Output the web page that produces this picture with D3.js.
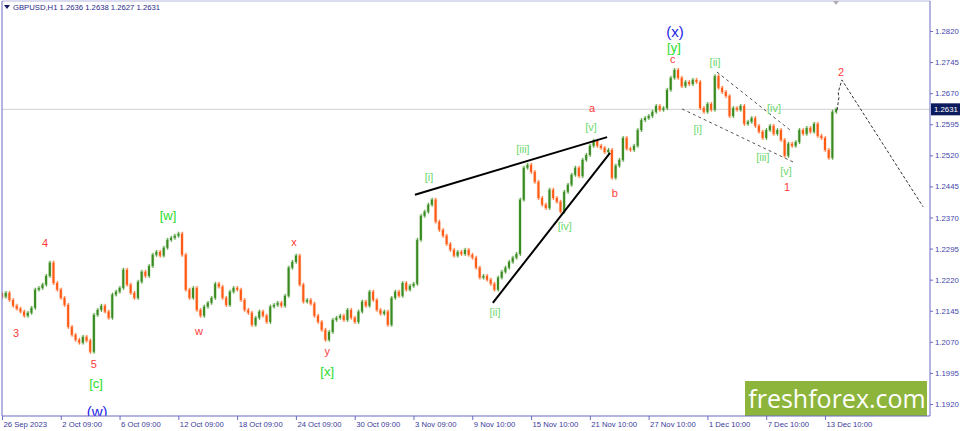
<!DOCTYPE html>
<html><head><meta charset="utf-8">
<script src="https://cdn.jsdelivr.net/npm/d3@7"></script>
<style>body{margin:0;background:#fff;overflow:hidden}svg{display:block}</style>
</head><body><svg id="c" width="960" height="431"></svg>
<script>
// GBPUSD H1 closes, one value per 6 hourly bars
const closes = [
1.2179,1.2188,1.2171,1.2157,1.2150,1.2143,1.2133,1.2140,1.2152,1.2196,1.2200,1.2208,1.2229,1.2261,1.2212,1.2196,
1.2176,1.2159,1.2106,1.2087,1.2075,1.2068,1.2082,1.2073,1.2046,1.2135,1.2147,1.2157,1.2143,1.2128,1.2184,1.2191,
1.2200,1.2244,1.2208,1.2188,1.2176,1.2215,1.2239,1.2229,1.2253,1.2280,1.2287,1.2278,1.2297,1.2316,1.2321,1.2326,
1.2331,1.2280,1.2196,1.2176,1.2200,1.2147,1.2133,1.2155,1.2164,1.2176,1.2210,1.2203,1.2176,1.2159,1.2191,1.2200,
1.2196,1.2171,1.2147,1.2140,1.2111,1.2128,1.2143,1.2133,1.2118,1.2155,1.2159,1.2164,1.2157,1.2181,1.2249,1.2263,
1.2278,1.2208,1.2167,1.2171,1.2162,1.2133,1.2118,1.2099,1.2075,1.2094,1.2123,1.2128,1.2133,1.2123,1.2147,1.2128,
1.2118,1.2143,1.2167,1.2157,1.2191,1.2171,1.2147,1.2138,1.2143,1.2111,1.2176,1.2191,1.2181,1.2212,1.2196,1.2205,
1.2210,1.2316,1.2374,1.2384,1.2401,1.2413,1.2360,1.2340,1.2326,1.2306,1.2292,1.2278,1.2287,1.2282,1.2292,1.2280,
1.2273,1.2249,1.2225,1.2229,1.2220,1.2210,1.2196,1.2225,1.2239,1.2249,1.2263,1.2273,1.2282,1.2413,1.2490,1.2497,
1.2480,1.2456,1.2417,1.2401,1.2393,1.2437,1.2417,1.2408,1.2384,1.2432,1.2449,1.2473,1.2490,1.2470,1.2509,1.2521,
1.2543,1.2555,1.2543,1.2538,1.2528,1.2533,1.2466,1.2495,1.2509,1.2562,1.2536,1.2533,1.2543,1.2581,1.2605,1.2610,
1.2615,1.2625,1.2639,1.2630,1.2634,1.2678,1.2707,1.2726,1.2707,1.2687,1.2697,1.2692,1.2702,1.2697,1.2634,1.2625,
1.2644,1.2630,1.2711,1.2683,1.2673,1.2663,1.2615,1.2634,1.2630,1.2639,1.2596,1.2601,1.2610,1.2591,1.2577,1.2562,
1.2581,1.2591,1.2572,1.2581,1.2557,1.2519,1.2548,1.2543,1.2552,1.2581,1.2572,1.2586,1.2577,1.2596,1.2567,1.2562,
1.2533,1.2514,1.2625,1.2631
];
const firstOpen = 1.2185;
const barsPerSample = 6;
const timeLabels = ["26 Sep 2023","2 Oct 09:00","6 Oct 09:00","12 Oct 09:00","18 Oct 09:00","24 Oct 09:00","30 Oct 09:00","3 Nov 09:00","9 Nov 10:00","15 Nov 10:00","21 Nov 10:00","27 Nov 10:00","1 Dec 10:00","7 Dec 10:00","13 Dec 10:00"];
const priceTicks = [1.2820,1.2745,1.2670,1.2595,1.2520,1.2445,1.2370,1.2295,1.2220,1.2145,1.2070,1.1995,1.1920];
const lastPrice = 1.2631;
const headerText = "GBPUSD,H1  1.2636 1.2638 1.2627 1.2631";
// wave labels: text, sample index, price, kind
const waveLabels = [
 ["4",11.7,1.2309,"r"],["3",3.8,1.2092,"r"],["5",25.0,1.2017,"r"],["[c]",25.6,1.1969,"g"],["(w)",25.9,1.1901,"b"],
 ["[w]",45.2,1.2374,"g"],["w",53.6,1.2097,"r"],["x",79.5,1.2311,"r"],["y",88.5,1.2049,"r"],["[x]",88.5,1.1998,"g"],
 ["[i]",116.2,1.2468,"s"],["[ii]",134.2,1.2143,"s"],["[iii]",141.8,1.2536,"s"],["[iv]",153.2,1.2350,"s"],["[v]",160.3,1.2589,"s"],
 ["a",160.6,1.2634,"r"],["b",166.8,1.2429,"r"],["c",182.6,1.2752,"r"],["[y]",182.9,1.2781,"g"],["(x)",183.2,1.2820,"b"],
 ["[ii]",194.1,1.2745,"s"],["[i]",189.4,1.2584,"s"],["[iv]",210.1,1.2634,"s"],["[iii]",207.1,1.2516,"s"],["[v]",213.4,1.2483,"s"],
 ["1",213.7,1.2444,"r"],["2",228.4,1.2721,"r"]
];
const wedgeUpper = [[112.4,1.2425],[164.7,1.2564]];
const wedgeLower = [[133.6,1.2164],[165.5,1.2526]];
const channelUpper = [[194.6,1.2721],[214.5,1.2581]];
const channelLower = [[185.1,1.2632],[215.3,1.2504]];
const projection = [[227.3,1.2629],[227.8,1.2660],[227.6,1.2672],[228.6,1.2702],[250.7,1.2396]];

const svg = d3.select("#c");
const L=2, R=930, T=1, B=416;
const x = d3.scaleLinear().domain([0, 227]).range([2, 2+227*3.674]);
const y = d3.scaleLinear().domain([1.1920, 1.2820]).range([404, 31]);
const AX = "Liberation Sans, Arial, sans-serif";

svg.append("defs").append("clipPath").attr("id","pc").append("rect")
  .attr("x",L).attr("y",T).attr("width",R-L).attr("height",B-T);
const plot = svg.append("g").attr("clip-path","url(#pc)");

// current price line
plot.append("line").attr("x1",L).attr("x2",R).attr("y1",y(lastPrice)).attr("y2",y(lastPrice))
  .attr("stroke","#d2d2d2").attr("stroke-width",1);

// candles
const cd = closes.map((c,i)=>({i, o: i?closes[i-1]:firstOpen, c}));
const up = "#3a8a22", dn = "#ff5a14";
const upL = "#a9d59a", dnL = "#ffb895";
plot.append("g").selectAll("rect").data(cd).join("rect")
  .attr("x",d=>x(d.i)-1.7).attr("width",3.4)
  .attr("y",d=>Math.min(y(d.o),y(d.c))-1.5)
  .attr("height",d=>Math.abs(y(d.o)-y(d.c))+3)
  .attr("fill",d=>d.c>=d.o?upL:dnL).attr("opacity",0.5);
plot.append("g").selectAll("line").data(cd).join("line")
  .attr("x1",d=>x(d.i)+0.3).attr("x2",d=>x(d.i)+0.3)
  .attr("y1",d=>Math.min(y(d.o),y(d.c))-2).attr("y2",d=>Math.max(y(d.o),y(d.c))+2)
  .attr("stroke",d=>d.c>=d.o?up:dn).attr("stroke-width",0.8);
plot.append("g").selectAll("rect").data(cd).join("rect")
  .attr("x",d=>x(d.i)-1).attr("width",2)
  .attr("y",d=>Math.min(y(d.o),y(d.c)))
  .attr("height",d=>Math.max(1,Math.abs(y(d.o)-y(d.c))))
  .attr("fill",d=>d.c>=d.o?up:dn);

const line = d3.line().x(d=>x(d[0])).y(d=>y(d[1]));
plot.append("path").attr("d",line(wedgeUpper)).attr("stroke","#000").attr("stroke-width",2).attr("fill","none");
plot.append("path").attr("d",line(wedgeLower)).attr("stroke","#000").attr("stroke-width",2).attr("fill","none");
[channelUpper,channelLower].forEach(c=>plot.append("path").attr("d",line(c)).attr("stroke","#555")
  .attr("stroke-width",1).attr("stroke-dasharray","3,3").attr("fill","none"));
plot.append("path").attr("d",line(projection)).attr("stroke","#333").attr("stroke-width",1)
  .attr("stroke-dasharray","3,2").attr("fill","none");

// wave labels
const sty = {
  r:{fill:"#ff3b3b",size:11},
  g:{fill:"#2bdc2b",size:13},
  s:{fill:"#6fd86f",size:11},
  b:{fill:"#2424e6",size:15}
};
plot.append("g").selectAll("text").data(waveLabels).join("text")
  .attr("x",d=>x(d[1])).attr("y",d=>y(d[2]))
  .attr("text-anchor","middle").attr("dominant-baseline","central")
  .attr("font-family",AX)
  .attr("font-size",d=>sty[d[3]].size).attr("fill",d=>sty[d[3]].fill)
  .text(d=>d[0]);

// watermark
const wm = svg.append("g");
wm.append("rect").attr("x",745).attr("y",381).attr("width",182).attr("height",35).attr("fill","#8db53c");
wm.append("text").attr("x",837).attr("y",398).attr("text-anchor","middle").attr("dominant-baseline","central")
  .attr("font-family","Open Sans, DejaVu Sans, sans-serif").attr("font-size",25).attr("fill","#fff").text("freshforex.com");

// frame
const axisCol = "#6a6ac4";
svg.append("line").attr("x1",L).attr("x2",R).attr("y1",T).attr("y2",T).attr("stroke","#b8b8e0");
svg.append("line").attr("x1",L).attr("x2",L).attr("y1",T).attr("y2",B).attr("stroke",axisCol);
svg.append("line").attr("x1",R).attr("x2",R).attr("y1",T).attr("y2",B).attr("stroke",axisCol);
svg.append("line").attr("x1",L).attr("x2",R).attr("y1",B).attr("y2",B).attr("stroke",axisCol);

// y axis
const ya = svg.append("g").attr("transform",`translate(${R},0)`)
  .call(d3.axisRight(y).tickValues(priceTicks).tickSize(3).tickFormat(d3.format(".4f")));
ya.select(".domain").remove();
ya.selectAll("line").attr("stroke",axisCol);
ya.selectAll("text").attr("fill","#4646aa").attr("x",5)
  .attr("font-family",AX).attr("font-size",7.8);

// x axis
const tickIdx = timeLabels.map((t,k)=>k*96/barsPerSample);
const xa = svg.append("g").attr("transform",`translate(0,${B})`)
  .call(d3.axisBottom(x).tickValues(tickIdx).tickSize(4).tickFormat((d,k)=>timeLabels[k]));
xa.select(".domain").remove();
xa.selectAll("line").attr("stroke",axisCol);
xa.selectAll("text").attr("fill","#3a3a9a").attr("text-anchor","start").attr("x",1).attr("y",5).attr("dy","0.75em")
  .attr("font-family",AX).attr("font-size",7.7);

// last price tag
svg.append("rect").attr("x",R+1).attr("y",y(lastPrice)-6).attr("width",29).attr("height",12).attr("fill","#0c1a5e");
svg.append("text").attr("x",R+4).attr("y",y(lastPrice)).attr("dominant-baseline","central")
  .attr("font-family",AX).attr("font-size",7.8).attr("fill","#fff").text(d3.format(".4f")(lastPrice));

// header
svg.append("path").attr("d","M4,5 L10,5 L7,9 Z").attr("fill","#1a1a6a");
svg.append("text").attr("x",13).attr("y",7.5).attr("dominant-baseline","central")
  .attr("font-family",AX).attr("font-size",7.7).attr("fill","#2a2a8a").text(headerText);
// shift marker
svg.append("path").attr("d","M833,1 L839,1 L836,5 Z").attr("fill","#b0b0b0");
</script></body></html>
